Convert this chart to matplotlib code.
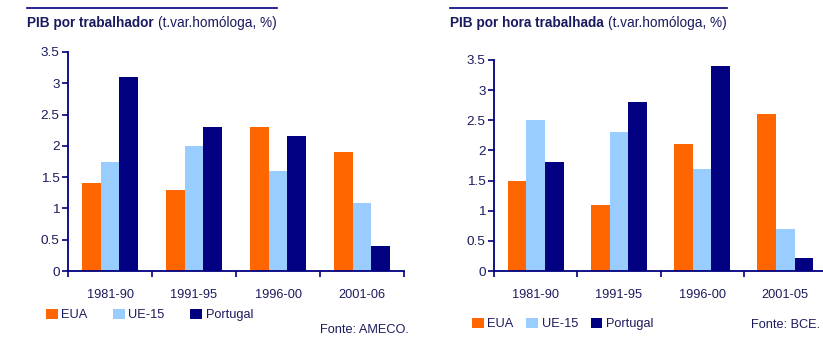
import matplotlib.pyplot as plt
import numpy as np

# data
categories_left = ['1981-90', '1991-95', '1996-00', '2001-06']
eua_left = [1.4, 1.3, 2.3, 1.9]
ue15_left = [1.75, 2.0, 1.6, 1.08]
portugal_left = [3.1, 2.3, 2.15, 0.4]

categories_right = ['1981-90', '1991-95', '1996-00', '2001-05']
eua_right = [1.5, 1.1, 2.1, 2.6]
ue15_right = [2.5, 2.3, 1.7, 0.7]
portugal_right = [1.8, 2.8, 3.4, 0.22]

series_names = ['EUA', 'UE-15', 'Portugal']
colors = ['#FF6600', '#99CCFF', '#000080']
yticks = [0, 0.5, 1, 1.5, 2, 2.5, 3, 3.5]
ytick_labels = ['0', '0.5', '1', '1.5', '2', '2.5', '3', '3.5']

navy = '#000080'
txt_col = '#1a1a5e'
plt.rcParams['font.family'] = ['Liberation Sans', 'DejaVu Sans']
fs = 9.2

W, H = 823, 347
fig = plt.figure(figsize=(W / 100, H / 100), dpi=100)


def px(x0, y0, x1, y1):
    # pixel box (top-left origin) -> figure fraction
    return [x0 / W, 1 - y1 / H, (x1 - x0) / W, (y1 - y0) / H]


def bar_panel(rect, cats, vals, bw):
    ax = fig.add_axes(rect)
    x = np.arange(len(cats)) + 0.5
    bars = []
    for i, v in enumerate(vals):
        bars.append(ax.bar(x + (i - 1) * bw, v, bw, color=colors[i],
                           label=series_names[i]))
    ax.set_xlim(0, len(cats))
    ax.set_ylim(0, 3.5)
    ax.set_yticks(yticks)
    ax.set_yticklabels(ytick_labels, fontsize=fs + 0.5)
    ax.set_xticks(np.arange(len(cats) + 1))
    ax.set_xticklabels([])
    ax.set_xticks(x, minor=True)
    ax.set_xticklabels(cats, minor=True, fontsize=fs)
    for s in ['top', 'right']:
        ax.spines[s].set_visible(False)
    for s in ['left', 'bottom']:
        ax.spines[s].set_color(navy)
        ax.spines[s].set_linewidth(1.3)
    ax.tick_params(axis='y', colors=navy, length=4, width=1.2, pad=2,
                   labelcolor=txt_col)
    ax.tick_params(axis='x', which='major', colors=navy, length=4, width=1.2)
    ax.tick_params(axis='x', which='minor', length=0, pad=13,
                   labelcolor=txt_col)
    return ax, bars


def title(x0, y, bold, normal, line_x1):
    fig.add_artist(plt.Line2D([x0 / W, line_x1 / W], [1 - 8 / H, 1 - 8 / H],
                              color=navy, lw=1.2))
    t = fig.text(x0 / W, 1 - y / H, bold, fontsize=9.8, fontweight='bold',
                 color=txt_col, va='center', ha='left')
    fig.canvas.draw()
    bb = t.get_window_extent()
    fig.text((bb.x1 + 4) / W, 1 - y / H, normal, fontsize=9.8,
             color=txt_col, va='center', ha='left')


def legend(ax, handles, x, y, spacing):
    ax.legend(handles=handles, loc='center left',
              bbox_to_anchor=(x / W, 1 - y / H), bbox_transform=fig.transFigure,
              ncol=3, frameon=False, fontsize=fs,
              handlelength=0.9, handleheight=0.9, handletextpad=0.3,
              columnspacing=spacing, borderpad=0, borderaxespad=0,
              labelcolor=txt_col)


# left panel
axl, barsl = bar_panel(px(68, 52, 404, 271), categories_left,
                       [eua_left, ue15_left, portugal_left], 0.226)
title(27, 23, 'PIB por trabalhador', '(t.var.homóloga, %)', 277)
legend(axl, barsl, 46, 315, 2.0)
fig.text(409 / W, 1 - 330 / H, 'Fonte: AMECO.', fontsize=fs,
         color=txt_col, ha='right', va='center')

# right panel
axr, barsr = bar_panel(px(494, 60, 827, 271), categories_right,
                       [eua_right, ue15_right, portugal_right], 0.225)
title(450, 23, 'PIB por hora trabalhada', '(t.var.homóloga, %)', 727)
legend(axr, barsr, 472, 324, 1.0)
fig.text(820 / W, 1 - 325 / H, 'Fonte: BCE.', fontsize=fs,
         color=txt_col, ha='right', va='center')

fig.savefig('out.png', dpi=100)
